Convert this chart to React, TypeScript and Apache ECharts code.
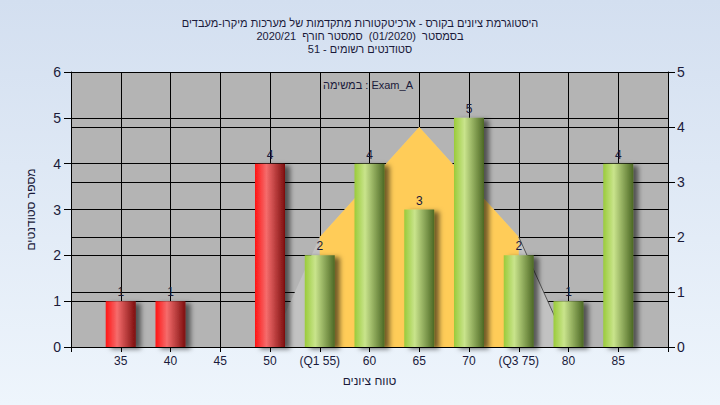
import React, { useEffect, useRef } from "react";
import * as echarts from "echarts";

const titleLines = [
  "היסטוגרמת ציונים בקורס - ארכיטקטורות מתקדמות של מערכות מיקרו-מעבדים",
  "בסמסטר  (01/2020)  סמסטר חורף  2020/21",
  "סטודנטים רשומים - 51",
];
const legendText = "במשימה : Exam_A";
const xAxisName = "טווח ציונים";
const yAxisName = "מספר סטודנטים";

const scores = [35, 40, 45, 50, 55, 60, 65, 70, 75, 80, 85];
const counts = [1, 1, 0, 4, 2, 4, 3, 5, 2, 1, 4];
const tickLabels = ["35", "40", "45", "50", "(Q1 55)", "60", "65", "70", "(Q3 75)", "80", "85"];
const passScore = 55;

const normX = [50, 55, 60, 65, 70, 75, 80];
const normY = [0, 2, 3, 4, 3, 2, 0];
const q1 = 55;
const q3 = 75;

const FONT = "Liberation Sans, Arial, sans-serif";
const TXT = "#1a1a3a";

const redGrad = {
  type: "linear", x: 0, y: 0, x2: 1, y2: 0,
  colorStops: [
    { offset: 0, color: "#ff1414" },
    { offset: 0.38, color: "#f56c6c" },
    { offset: 1, color: "#7c0e0e" },
  ],
};
const greenGrad = {
  type: "linear", x: 0, y: 0, x2: 1, y2: 0,
  colorStops: [
    { offset: 0, color: "#9acb3a" },
    { offset: 0.35, color: "#c9e48c" },
    { offset: 1, color: "#4c6824" },
  ],
};

export default function App() {
  const ref = useRef<HTMLDivElement>(null);
  useEffect(() => {
    if (!ref.current) return;
    const chart = echarts.init(ref.current, undefined, { renderer: "svg" });
    const normPts = normX.map((x, i) => [x, normY[i]]);
    const midPts = normPts.filter((p) => p[0] >= q1 && p[0] <= q3);
    const tailPts = normPts.filter((p) => p[0] >= q3);
    chart.setOption({
      animation: false,
      textStyle: { fontFamily: FONT },
      title: {
        text: titleLines.join("\n"),
        left: "center",
        top: 11,
        textStyle: { fontSize: 11, lineHeight: 13, fontWeight: "normal", color: TXT, fontFamily: FONT },
      },
      graphic: [
        {
          type: "text",
          left: 323,
          top: 79,
          style: { text: legendText, fontSize: 11, fill: TXT, fontFamily: FONT },
          z: 10,
        },
      ],
      grid: {
        left: 71, right: 52, top: 72, bottom: 58,
        show: true, backgroundColor: "#b4b4b4", borderWidth: 0,
      },
      xAxis: {
        type: "value",
        min: 30, max: 90, interval: 5,
        name: xAxisName,
        nameLocation: "middle",
        nameGap: 28,
        nameTextStyle: { fontSize: 12, color: TXT, fontFamily: FONT },
        axisLine: { show: true, lineStyle: { color: "#000", width: 1 } },
        axisTick: { show: true, length: 5, lineStyle: { color: "#000" } },
        splitLine: { show: true, lineStyle: { color: "#000", width: 1 } },
        axisLabel: {
          fontSize: 12, color: TXT, margin: 8, fontFamily: FONT,
          formatter: (v: number) => {
            const i = scores.indexOf(v);
            return i >= 0 ? tickLabels[i] : "";
          },
        },
      },
      yAxis: [
        {
          type: "value", min: 0, max: 6, interval: 1, position: "left",
          name: yAxisName, nameLocation: "middle", nameGap: 34, nameRotate: 90,
          nameTextStyle: { fontSize: 12, color: TXT, fontFamily: FONT },
          axisLine: { show: true, lineStyle: { color: "#000", width: 1 } },
          axisTick: { show: true, length: 7, lineStyle: { color: "#000" } },
          splitLine: { show: true, lineStyle: { color: "#000", width: 1 } },
          axisLabel: { fontSize: 14, color: TXT, margin: 10, fontFamily: FONT },
        },
        {
          type: "value", min: 0, max: 5, interval: 1, position: "right",
          axisLine: { show: true, lineStyle: { color: "#000", width: 1 } },
          axisTick: { show: true, length: 7, lineStyle: { color: "#000" } },
          splitLine: { show: true, lineStyle: { color: "#000", width: 1 } },
          axisLabel: { fontSize: 14, color: TXT, margin: 9, fontFamily: FONT },
        },
      ],
      series: [
        {
          type: "line", yAxisIndex: 1, data: normPts, symbol: "none", z: 2,
          lineStyle: { width: 0 },
          areaStyle: { color: "#c2c2c2", opacity: 1 },
          silent: true,
        },
        {
          type: "line", yAxisIndex: 1, data: midPts, symbol: "none", z: 3,
          lineStyle: { width: 0 },
          areaStyle: { color: "#ffcc58", opacity: 1 },
          silent: true,
        },
        {
          type: "line", yAxisIndex: 1, data: tailPts, symbol: "none", z: 3,
          lineStyle: { width: 1, color: "#555" },
          silent: true,
        },
        {
          type: "bar", yAxisIndex: 0, barWidth: 30, z: 5,
          data: scores.map((s, i) => ({
            value: [s, counts[i]],
            itemStyle: {
              color: s < passScore ? redGrad : greenGrad,
              shadowColor: "rgba(0,0,0,0.55)",
              shadowBlur: 5,
              shadowOffsetX: 5,
              shadowOffsetY: 2,
            },
          })),
          label: {
            show: true, position: "top", distance: 3,
            fontSize: 12, color: TXT, fontFamily: FONT,
            formatter: (p: any) => (p.value[1] ? String(p.value[1]) : ""),
          },
        },
      ],
    });
    return () => chart.dispose();
  }, []);
  return (
    <div
      style={{
        position: "fixed", left: 0, top: 0, width: 720, height: 405,
        background: "linear-gradient(180deg, #d3dff0 0%, #eef5fc 100%)",
      }}
    >
      <div ref={ref} style={{ width: 720, height: 405 }} />
    </div>
  );
}
